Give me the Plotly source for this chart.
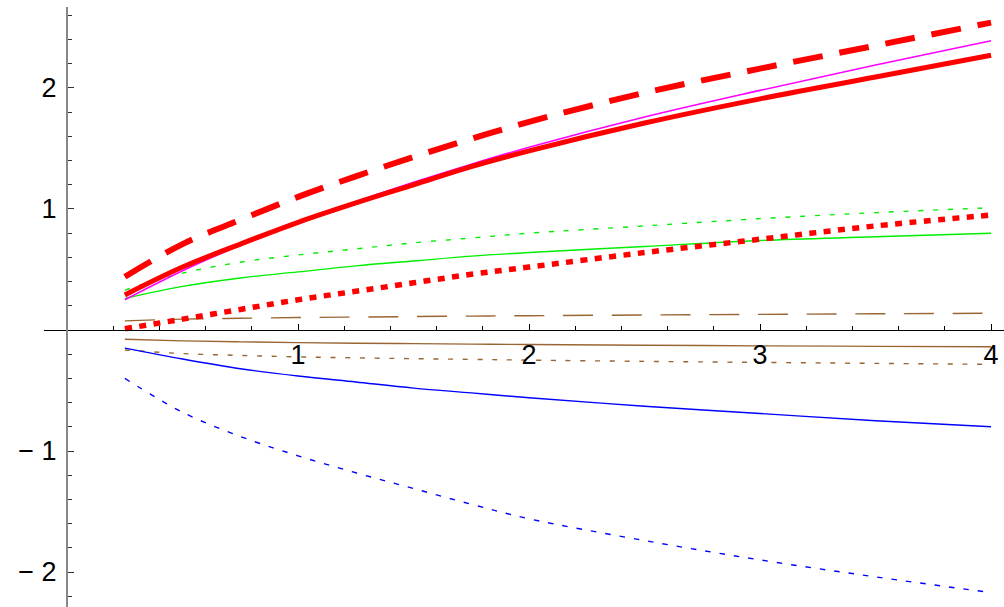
import numpy as np
import plotly.graph_objects as go

# ---- data ----
x_vals = [0.25, 0.5, 0.75, 1.0, 1.25, 1.5, 1.75, 2.0, 2.5, 3.0, 3.5, 4.0]

red_solid    = [0.29, 0.52, 0.71, 0.89, 1.05, 1.20, 1.35, 1.48, 1.71, 1.91, 2.09, 2.27]
red_dashed   = [0.44, 0.71, 0.91, 1.10, 1.27, 1.43, 1.58, 1.72, 1.96, 2.16, 2.35, 2.54]
red_dotted   = [0.01, 0.09, 0.17, 0.25, 0.32, 0.39, 0.46, 0.52, 0.64, 0.75, 0.86, 0.95]
magenta      = [0.25, 0.49, 0.70, 0.89, 1.06, 1.22, 1.37, 1.51, 1.76, 1.98, 2.19, 2.39]
green_dashed = [0.33, 0.47, 0.56, 0.62, 0.67, 0.72, 0.76, 0.80, 0.86, 0.92, 0.97, 1.01]
green_solid  = [0.26, 0.36, 0.43, 0.48, 0.53, 0.57, 0.61, 0.64, 0.69, 0.74, 0.77, 0.80]
brown_dashed = [0.075, 0.09, 0.097, 0.103, 0.107, 0.111, 0.115, 0.118, 0.124, 0.129, 0.134, 0.138]
brown_solid  = [-0.077, -0.09, -0.098, -0.104, -0.109, -0.113, -0.117, -0.12, -0.126, -0.131, -0.135, -0.139]
brown_dotted = [-0.165, -0.195, -0.21, -0.222, -0.23, -0.237, -0.243, -0.249, -0.259, -0.268, -0.276, -0.284]
blue_solid   = [-0.15, -0.24, -0.32, -0.38, -0.43, -0.48, -0.52, -0.56, -0.63, -0.69, -0.75, -0.80]
blue_dashed  = [-0.40, -0.68, -0.88, -1.04, -1.18, -1.31, -1.44, -1.56, -1.74, -1.90, -2.04, -2.17]

x_ticks = [1, 2, 3, 4]
x_tick_labels = ["1", "2", "3", "4"]
y_ticks = [-2, -1, 1, 2]
y_tick_labels = ["\u2212 2", "\u2212 1", "1", "2"]

RED = "#ff0000"
MAGENTA = "#ff00ff"
GREEN = "#00ee00"
BROWN = "#996633"
BLUE = "#0000ff"

series = [
    (brown_dashed, BROWN, 1.4, "30px,18.7px"),
    (brown_solid, BROWN, 1.4, "solid"),
    (brown_dotted, BROWN, 1.4, "5px,9.7px"),
    (blue_solid, BLUE, 1.4, "solid"),
    (blue_dashed, BLUE, 1.4, "5.5px,9px"),
    (green_dashed, GREEN, 1.4, "5px,9.8px"),
    (green_solid, GREEN, 1.4, "solid"),
    (magenta, MAGENTA, 1.6, "solid"),
    (red_dotted, RED, 5.5, "7px,7.4px"),
    (red_dashed, RED, 6, "30px,17px"),
    (red_solid, RED, 5, "solid"),
]

fig = go.Figure()
for ys, col, w, dash in series:
    fig.add_trace(go.Scatter(
        x=x_vals, y=ys, mode="lines",
        line=dict(color=col, width=w, dash=dash, shape="spline", smoothing=1.0),
        hoverinfo="skip", showlegend=False,
    ))

W, H = 1004, 607
font = dict(family="Liberation Sans, Arial, sans-serif", size=27, color="black")

x_minor = [round(v, 1) for v in np.arange(0.2, 4.05, 0.2) if abs(v - round(v)) > 1e-6]
y_minor = [round(v, 1) for v in np.arange(-2.2, 2.65, 0.2) if abs(v - round(v)) > 1e-6]

fig.update_layout(
    width=W, height=H,
    margin=dict(l=0, r=0, t=0, b=0, autoexpand=False),
    paper_bgcolor="white", plot_bgcolor="white",
    showlegend=False,
    xaxis=dict(
        domain=[44 / W, 1], range=[-0.1, 4.056],
        anchor="free", position=277 / H, automargin=False,
        showline=True, linecolor="black", linewidth=1,
        showgrid=False, zeroline=False,
        ticks="inside", ticklen=6, tickwidth=1, tickcolor="black",
        tickvals=x_ticks, ticktext=x_tick_labels, tickfont=font,
        ticklabelstandoff=1,
        minor=dict(tickvals=x_minor, ticks="inside", ticklen=4, tickwidth=1, tickcolor="black"),
    ),
    yaxis=dict(
        domain=[0, 600 / H], range=[-2.289, 2.669],
        anchor="free", position=67 / W, automargin=False,
        showline=True, linecolor="#888888", linewidth=2,
        showgrid=False, zeroline=False,
        ticks="inside", ticklen=6, tickwidth=1, tickcolor="#333333",
        tickvals=y_ticks, ticktext=y_tick_labels, tickfont=font,
        ticklabelstandoff=4,
        minor=dict(tickvals=y_minor, ticks="inside", ticklen=4, tickwidth=1, tickcolor="#333333"),
    ),
)

fig.write_html(
    "out.html",
    config={"displayModeBar": False, "staticPlot": True},
    post_script="document.body.style.margin='0';document.body.style.overflow='hidden';",
)
